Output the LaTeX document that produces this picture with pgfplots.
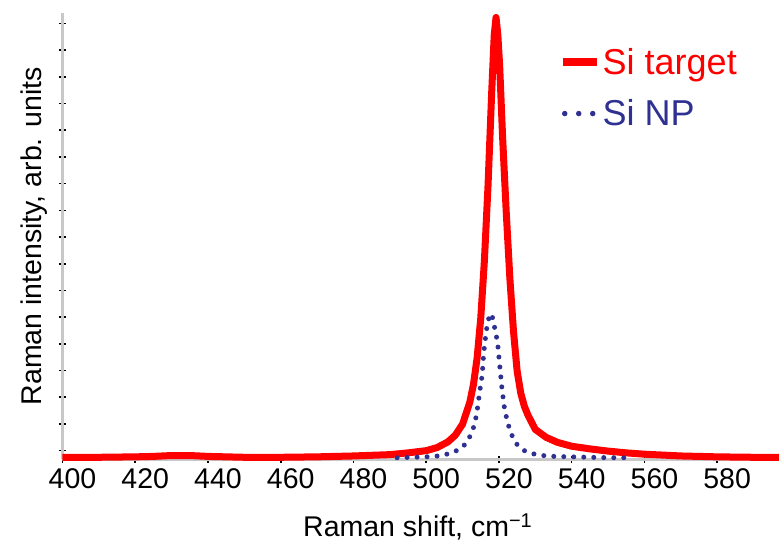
\documentclass[border=0pt]{standalone}
\usepackage{pgfplots}
\pgfplotsset{compat=1.18}
\usepackage{fontspec}
\setmainfont{Liberation Sans}
\definecolor{npblue}{HTML}{2E3192}
\definecolor{axgray}{HTML}{C8C8C8}
\pgfplotsset{layers/mylayers/.define layer set={axis background,axis grid,axis lines,axis ticks,axis tick labels,main,axis descriptions,axis foreground}{}}
\begin{document}
\begin{tikzpicture}
\begin{axis}[
  name=ax,
  set layers=mylayers,
  scale only axis,
  width=716.5pt, height=446.5pt,
  xmin=400, xmax=597, ymin=0, ymax=1.01,
  clip=false,
  axis x line=bottom, axis y line=left,
  axis line style={draw=axgray, line width=3.5pt, -},
  xtick={400,420,...,580},
  minor x tick num=3,
  ytick={0.02,0.0804,...,1.0},
  minor y tick num=4,
  yticklabels={},
  tick style={black, line width=1.6pt},
  major tick length=7pt, minor tick length=3.2pt,
  tick align=center,
  /pgf/number format/assume math mode=true,
  xticklabel style={font=\fontsize{28.5}{32}\selectfont, xshift=10pt, yshift=-2pt},
  xlabel={Raman shift, cm\textsuperscript{\char"2212 1}},
  ylabel={Raman intensity, arb. units},
  label style={font=\fontsize{28.5}{32}\selectfont},
  xlabel style={at={(axis description cs:0.5,0)}, anchor=base, yshift=-77.5pt, xshift=-3pt},
  ylabel style={at={(axis description cs:-0.029,0.5)}, anchor=base},
  legend style={at={(1,1)}, anchor=north east, draw=none, fill=none,
    font=\fontsize{36}{40}\selectfont, xshift=-40pt, yshift=-33pt,
    row sep=20pt, inner sep=0pt},
  legend cell align=left,
]
\addplot[red, line width=7pt, line join=round,
  legend image code/.code={\draw[red, line width=8pt] (-4pt,0pt) -- (30pt,0pt);}]
coordinates {
(400,0.005) (410,0.005) (420,0.006) (425,0.007) (430,0.009) (435,0.009) (440,0.007)
(450,0.005) (460,0.005) (470,0.006) (480,0.008) (490,0.011) (495,0.015) (500,0.020)
(503,0.027) (506,0.040) (508,0.055) (510,0.080) (512,0.13) (513,0.17) (514,0.23)
(515,0.32) (516,0.45) (517,0.62) (518,0.83) (518.7,0.96) (519.2,1.0) (519.7,0.96)
(520.2,0.89) (521,0.73) (522,0.56) (523,0.41) (524,0.29) (525,0.20) (526,0.15)
(527,0.12) (528,0.10) (530,0.068) (533,0.05) (536,0.039) (540,0.030) (545,0.024)
(550,0.019) (555,0.015) (560,0.012) (570,0.008) (580,0.006) (590,0.005) (597,0.005)
};
\addlegendentry[text=red]{Si target}
\addplot[npblue, line width=5pt, line cap=round, dash pattern=on 0pt off 10pt,
  legend image code/.code={\draw[npblue, line width=5.5pt, line cap=round, dash pattern=on 0pt off 14pt] (-2pt,0pt) -- (28pt,0pt);}]
coordinates {
(492,0.004) (496,0.005) (500,0.006) (502.3,0.007) (504.8,0.010) (507.3,0.016)
(509.6,0.025) (511.2,0.039) (512.3,0.057) (513.3,0.079) (514.0,0.11) (514.6,0.147)
(515.4,0.192) (515.8,0.24) (516.5,0.29) (517.0,0.313) (517.4,0.325) (517.8,0.330)
(518.2,0.322) (518.6,0.306) (519.2,0.284) (519.7,0.258) (520.1,0.222) (520.8,0.162)
(521.5,0.117) (522.2,0.090) (522.9,0.069) (523.8,0.050) (525.2,0.031) (527,0.020)
(529.3,0.013) (532,0.009) (535.2,0.007) (540,0.006) (545,0.005) (550,0.004) (555,0.004)
};
\addlegendentry[text=npblue]{Si NP}
\end{axis}
\pgfresetboundingbox
\path ([xshift=-62.5pt, yshift=-88.5pt]ax.south west) rectangle ([yshift=13pt]ax.north east);
\end{tikzpicture}
\end{document}
